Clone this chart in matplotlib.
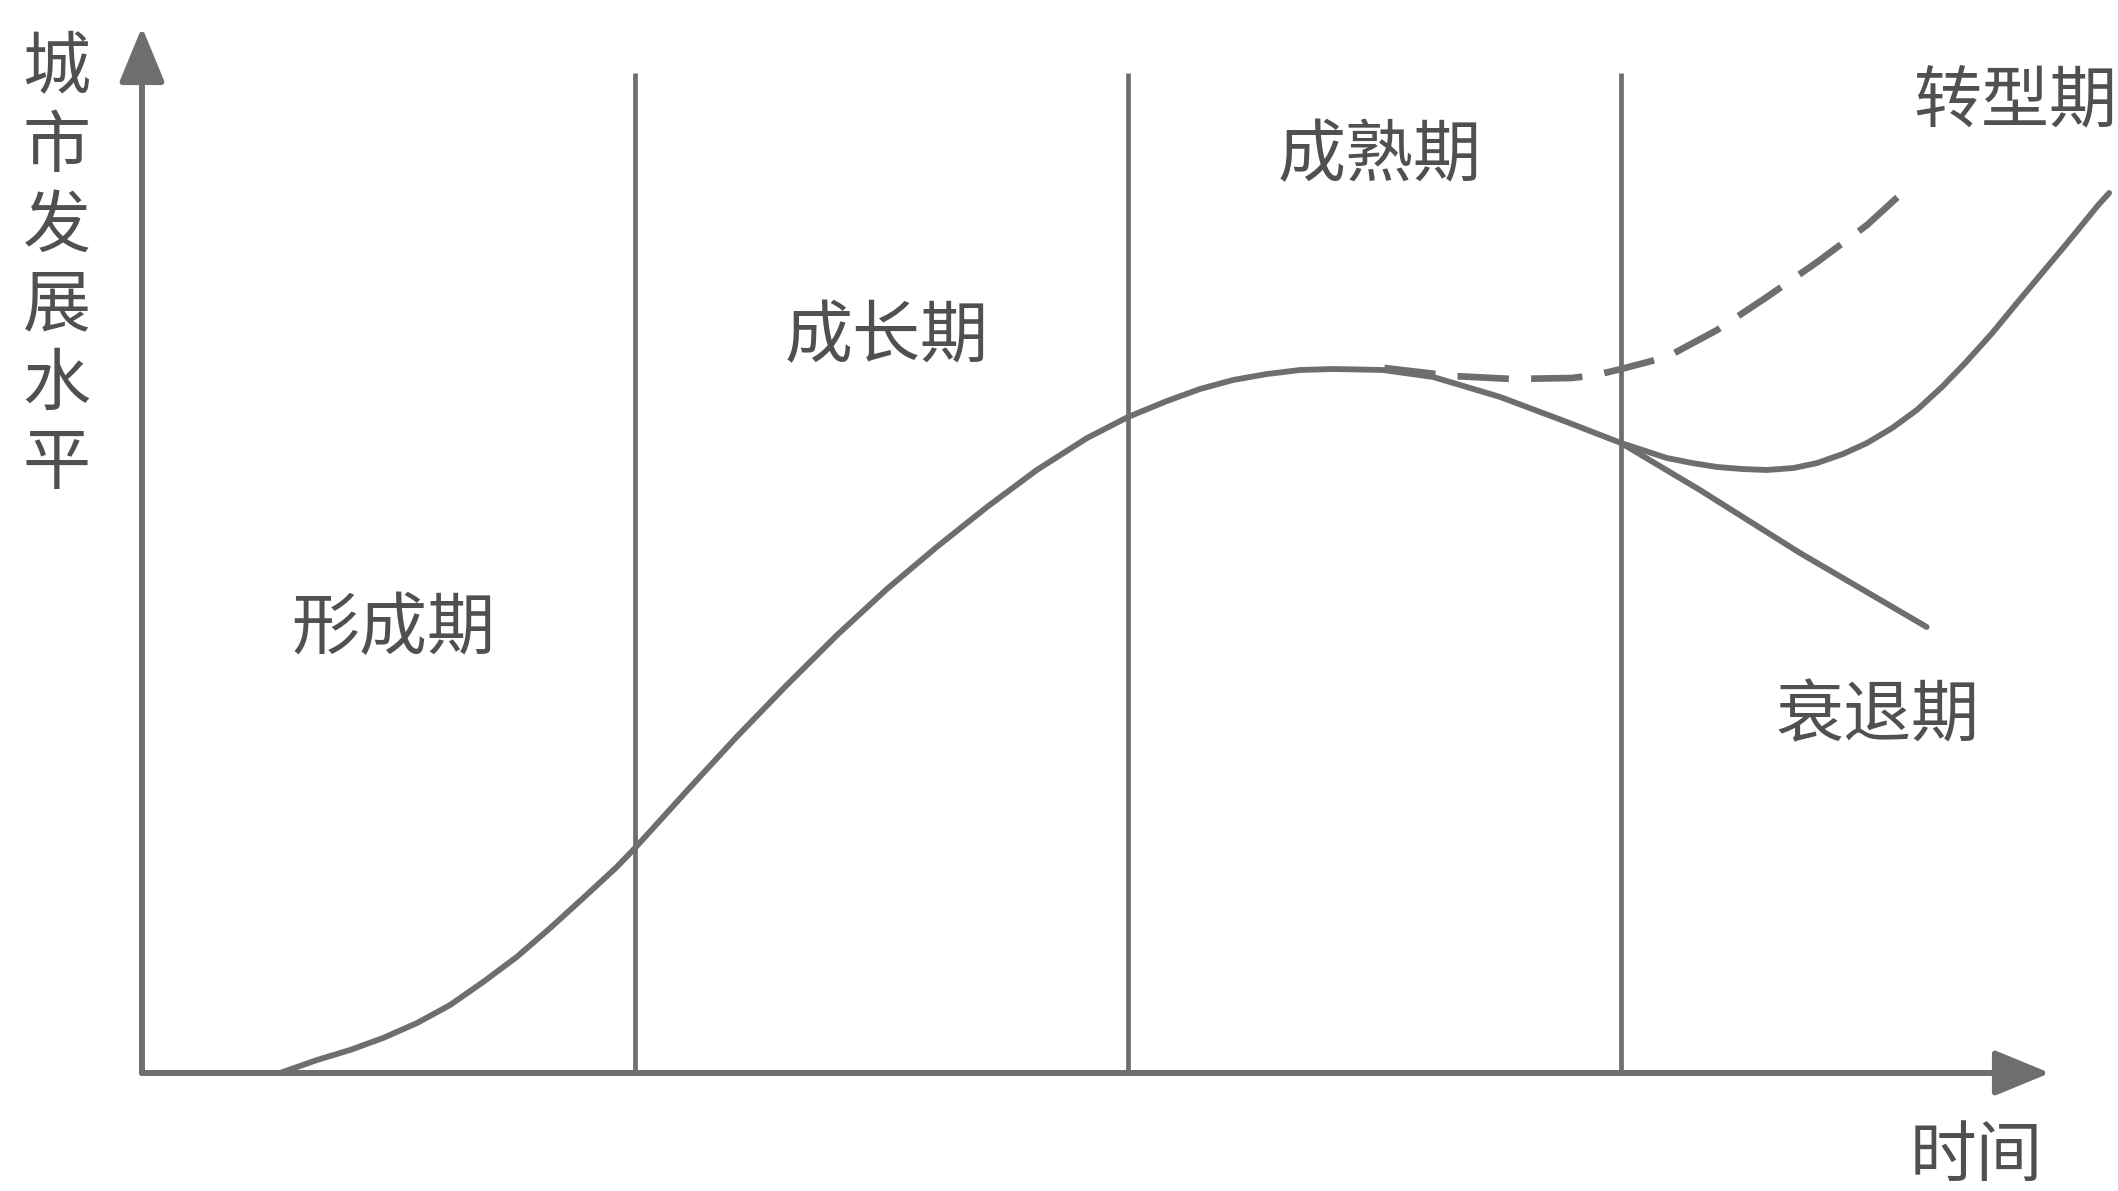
import matplotlib
matplotlib.use("Agg")
import matplotlib.pyplot as plt

plt.rcParams['font.family'] = ['Noto Sans CJK SC', 'DejaVu Sans']
plt.rcParams['lines.scale_dashes'] = False

LINE_COLOR = '#6e6e6e'
TEXT_COLOR = '#505050'

# main curve: formation -> growth -> maturity
main_t = [0.28, 0.355, 0.422, 0.489, 0.558, 0.625, 0.692, 0.760, 0.828, 0.895, 0.963, 1.0,
          1.024, 1.105, 1.206, 1.308, 1.41, 1.511, 1.612, 1.714, 1.815, 1.917, 2.0,
          2.079, 2.146, 2.213, 2.282, 2.349, 2.416, 2.517, 2.619, 2.755, 2.89, 3.0]
main_v = [0.0, 0.13, 0.23, 0.35, 0.50, 0.68, 0.91, 1.16, 1.45, 1.75, 2.06, 2.25,
          2.38, 2.82, 3.36, 3.88, 4.38, 4.84, 5.26, 5.66, 6.03, 6.35, 6.56,
          6.72, 6.84, 6.93, 6.99, 7.03, 7.04, 7.03, 6.96, 6.76, 6.51, 6.30]

# decline branch
decline_t = [3.0, 3.16, 3.363, 3.62]
decline_v = [6.30, 5.83, 5.20, 4.46]

# transformation branch
trans_t = [3.0, 3.093, 3.144, 3.195, 3.245, 3.296, 3.35, 3.398, 3.45, 3.499, 3.55,
           3.60, 3.651, 3.70, 3.753, 3.803, 3.905, 3.968, 3.99]
trans_v = [6.30, 6.15, 6.10, 6.06, 6.04, 6.03, 6.05, 6.10, 6.19, 6.30, 6.45,
           6.63, 6.86, 7.11, 7.40, 7.70, 8.30, 8.68, 8.80]

# dashed alternative path after maturity
dash_t = [2.52, 2.66, 2.78, 2.90, 2.95, 3.0, 3.093, 3.195, 3.296, 3.398, 3.499, 3.57]
dash_v = [7.05, 6.97, 6.94, 6.95, 6.98, 7.04, 7.16, 7.43, 7.76, 8.11, 8.48, 8.80]

stage_bounds = [1, 2, 3]
bound_top = 10.0

stage_labels = ['形成期', '成长期', '成熟期', '转型期', '衰退期']
label_t = [0.51, 1.51, 2.51, 3.80, 3.52]
label_v = [4.43, 7.35, 9.16, 9.70, 3.56]

x_label = '时间'
y_label = '城市发展水平'
x_end = 3.87
y_end = 10.46


fig = plt.figure(figsize=(21.18, 11.91), dpi=100)
ax = fig.add_axes([0, 0, 1, 1])
ax.set_xlim(-0.288, 4.008)
ax.set_ylim(-1.18, 10.73)
ax.axis('off')

# axes with arrows
arrow = dict(arrowstyle='-|>,head_length=1.7,head_width=0.7', mutation_scale=20,
             color=LINE_COLOR, lw=4.3, shrinkA=0, shrinkB=0)
ax.annotate('', xy=(x_end, 0), xytext=(0, 0), arrowprops=arrow)
ax.annotate('', xy=(0, y_end), xytext=(0, 0), arrowprops=arrow)

# stage boundaries
ax.vlines(stage_bounds, 0, bound_top, color=LINE_COLOR, lw=3.4)

ax.plot(main_t, main_v, color=LINE_COLOR, lw=4.2, solid_capstyle='round', solid_joinstyle='round')
ax.plot(decline_t, decline_v, color=LINE_COLOR, lw=4.2, solid_capstyle='round')
ax.plot(trans_t, trans_v, color=LINE_COLOR, lw=4.2, solid_capstyle='round', solid_joinstyle='round')
ax.plot(dash_t, dash_v, color=LINE_COLOR, lw=4.8, dashes=(37, 16))

for lab, t, v in zip(stage_labels, label_t, label_v):
    ax.text(t, v, lab, fontsize=49, color=TEXT_COLOR, ha='center', va='center')

ax.text(3.72, -0.84, x_label, fontsize=48, color=TEXT_COLOR, ha='center', va='center')
ax.text(-0.173, 8.06, '\n'.join(y_label), fontsize=49, color=TEXT_COLOR,
        ha='center', va='center', linespacing=1.17)

fig.savefig('out.png', dpi=100)
